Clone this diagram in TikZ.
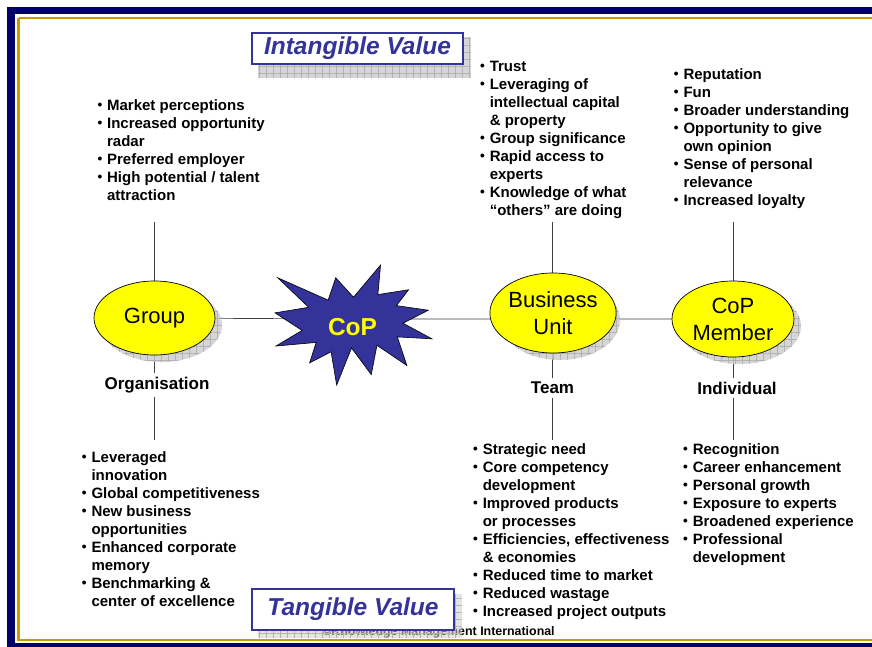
\documentclass[tikz,border=0pt]{standalone}
\usepackage{fontspec}
\setmainfont{Liberation Sans}
\usetikzlibrary{shapes.geometric,patterns.meta}

\definecolor{navy}{HTML}{000066}
\definecolor{gold}{HTML}{CC9900}
\definecolor{valueblue}{HTML}{333399}
\definecolor{sealblue}{HTML}{333399}
\definecolor{unityellow}{HTML}{FFFF00}

% bullet and hanging indent for the item lists (each carries a 12pt strut)
\newcommand\bl{\rule{0pt}{12pt}\makebox[9.6pt][l]{\raisebox{0.3pt}{\fontsize{13.5}{13.5}\selectfont•}}}
\newcommand\ct{\rule{0pt}{12pt}\hspace*{9.6pt}}

\tikzset{
  link/.style={draw=black!75, line width=0.7pt},
  itemlist/.style={anchor=north west, inner sep=0pt, align=left,
    font=\fontsize{15}{18}\selectfont\bfseries},
  unit/.style={ellipse, draw=black, line width=0.7pt, fill=unityellow,
    inner sep=0pt, align=center, font=\fontsize{22}{27}\selectfont},
  tag/.style={fill=white, inner sep=4pt, font=\fontsize{17}{20}\selectfont\bfseries},
  valuebox/.style={draw=valueblue, line width=1.3pt, fill=white, inner sep=0pt,
    text=valueblue, font=\fontsize{24.5}{28}\selectfont\bfseries\itshape},
  gridshadow/.style={preaction={fill=gray!38, fill opacity=#1},
    pattern={Lines[distance=7pt, line width=0.35pt]}, pattern color=gray!60,
    postaction={pattern={Lines[angle=90, distance=7pt, line width=0.35pt]}, pattern color=gray!60}},
  gridshadow/.default=0.85,
}

\begin{document}
\begin{tikzpicture}[x=1pt, y=-1pt]
\useasboundingbox (0,0) rectangle (872,647);

% page frame
\fill[white] (0,0) rectangle (872,647);
\fill[navy] (7,7) rectangle (880,660);
\fill[white] (15,14) rectangle (880,643);
\draw[gold, line width=2.6pt] (18.6,18) -- (880,18);
\draw[gold, line width=2.6pt] (18.6,18) -- (18.6,640) -- (880,640);

% hub of the horizontal chain and ends of the vertical stems
\coordinate (hub) at (353,319);
\coordinate (gtop) at (154.5,222);
\coordinate (gbot) at (154.5,440);
\coordinate (btop) at (552.5,222);
\coordinate (bbot) at (552.5,440);
\coordinate (mtop) at (733,222);
\coordinate (mbot) at (733,440);

% units (placed first so lines can refer to them)
\path (154.5,318) node[unit, minimum width=121pt, minimum height=74pt, draw=none, fill=none] (group) {};
\path (553,313) node[unit, minimum width=120pt, minimum height=80pt, draw=none, fill=none] (bu) {};
\path (733,319) node[unit, minimum width=122pt, minimum height=76pt, draw=none, fill=none] (member) {};

% connectors
\draw[link] (group.center) -- (hub) -- (hub -| bu.center) -- (member.center);
\draw[link] (gtop) -- (gbot);
\draw[link] (btop) -- (bbot);
\draw[link] (mtop) -- (mbot);

% shadows of the units
\path[gridshadow] ([shift={(7,7)}]group.center) ellipse [x radius=60.5pt, y radius=37pt];
\path[gridshadow] ([shift={(7,7)}]bu.center) ellipse [x radius=60pt, y radius=40pt];
\path[gridshadow] ([shift={(7,7)}]member.center) ellipse [x radius=61pt, y radius=38pt];

% the units themselves
\node[unit, minimum width=121pt, minimum height=74pt] at (group) {Group};
\node[unit, minimum width=120pt, minimum height=80pt] at (bu) {Business\\Unit};
\node[unit, minimum width=122pt, minimum height=76pt] at (member) {CoP\\Member};

% explosion around the CoP
\begin{scope}[shift={(275,265)}, x=0.72685pt, y=-0.55556pt]
\draw[fill=sealblue, draw=black, line width=0.6pt]
  (108,58) -- (145.22,0) -- (141.55,53.25) -- (183.8,44.57) -- (167.02,73.15)
  -- (210.97,81.37) -- (176.07,104.75) -- (216,132.9) -- (168.37,129.42)
  -- (181.45,180.95) -- (140.2,144.57) -- (132.47,197.37) -- (105.32,149.35)
  -- (84.85,216) -- (77.15,156.27) -- (47.62,176.17) -- (56.67,139.37)
  -- (1.35,145.87) -- (37.22,117.75) -- (0,86.15) -- (46.27,76.17)
  -- (3.7,22.95) -- (73.12,63.2) -- (83.52,22.95) -- cycle;
\end{scope}
\node[text=unityellow, font=\fontsize{24.5}{28}\selectfont\bfseries, inner sep=0pt] (cop) at (352.5,327) {CoP};

% level labels
\node[tag] (orgl) at (157,385) {Organisation};
\node[tag] (teaml) at (552.5,388) {Team};
\node[tag] (indl) at (737,388) {Individual};

% intangible benefits
\node[itemlist] (gint) at (97.3,98) {\bl Market perceptions\\
\bl Increased opportunity\\
\ct radar\\
\bl Preferred employer\\
\bl High potential / talent\\
\ct attraction};

\node[itemlist] (bint) at (480,59) {\bl Trust\\
\bl Leveraging of\\
\ct intellectual capital\\
\ct \& property\\
\bl Group significance\\
\bl Rapid access to\\
\ct experts\\
\bl Knowledge of what\\
\ct “others” are doing};

\node[itemlist] (mint) at (673.7,67) {\bl Reputation\\
\bl Fun\\
\bl Broader understanding\\
\bl Opportunity to give\\
\ct own opinion\\
\bl Sense of personal\\
\ct relevance\\
\bl Increased loyalty};

% tangible benefits
\node[itemlist] (gtan) at (81.7,450) {\bl Leveraged\\
\ct innovation\\
\bl Global competitiveness\\
\bl New business\\
\ct opportunities\\
\bl Enhanced corporate\\
\ct memory\\
\bl Benchmarking \&\\
\ct center of excellence};

\node[itemlist] (btan) at (473,442) {\bl Strategic need\\
\bl Core competency\\
\ct development\\
\bl Improved products\\
\ct or processes\\
\bl Efficiencies, effectiveness\\
\ct \& economies\\
\bl Reduced time to market\\
\bl Reduced wastage\\
\bl Increased project outputs};

\node[itemlist] (mtan) at (683,442) {\bl Recognition\\
\bl Career enhancement\\
\bl Personal growth\\
\bl Exposure to experts\\
\bl Broadened experience\\
\bl Professional\\
\ct development};

% copyright line
\node[font=\fontsize{12.4}{14}\selectfont\bfseries, inner sep=0pt] (copyr) at (438.5,632) {©Knowledge Management International};

% value headings with their shadows
\path (357.5,48.5) node[valuebox, minimum width=211pt, minimum height=31pt, draw=none, fill=none, text opacity=0] (intang) {Intangible Value};
\path[gridshadow] ([shift={(7,5)}]intang.north west) rectangle ([shift={(7,13)}]intang.south east);
\node[valuebox, minimum width=211pt, minimum height=31pt] at (intang) {Intangible Value};

\path (353,609.5) node[valuebox, minimum width=202pt, minimum height=41pt, draw=none, fill=none, text opacity=0] (tang) {Tangible Value};
\path[gridshadow=0.55] ([shift={(7,6)}]tang.north west) rectangle ([shift={(7,7)}]tang.south east);
\node[valuebox, minimum width=202pt, minimum height=41pt] at (tang) {Tangible Value};
\end{tikzpicture}
\end{document}
